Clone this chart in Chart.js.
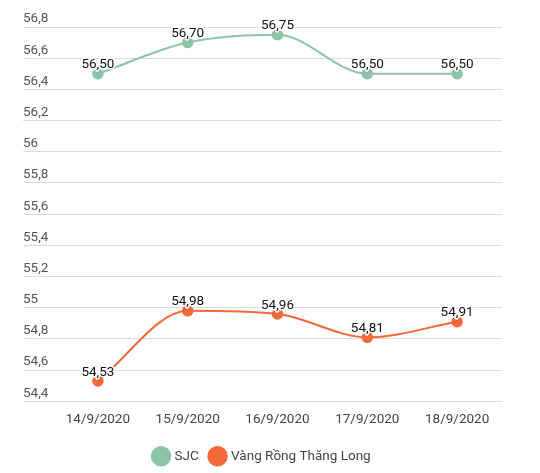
<!DOCTYPE html>
<html>
<head>
<meta charset="utf-8">
<script src="https://cdn.jsdelivr.net/npm/chart.js@4.4.1/dist/chart.umd.min.js"></script>
<style>
  html, body { margin: 0; padding: 0; background: #fff; }
  #wrap { width: 540px; height: 473px; position: relative; }
</style>
</head>
<body>
<div id="wrap"><canvas id="chart"></canvas></div>
<script>
// Dữ liệu giá vàng (triệu đồng/lượng)
const days = ['14/9/2020', '15/9/2020', '16/9/2020', '17/9/2020', '18/9/2020'];
const sjc = [56.50, 56.70, 56.75, 56.50, 56.50];
const rongThangLong = [54.53, 54.98, 54.96, 54.81, 54.91];
const seriesNames = ['SJC', 'Vàng Rồng Thăng Long'];
const seriesColors = ['#8cc4a7', '#f4693a'];

const fmt = (v, d) => v.toFixed(d).replace('.', ',');

// nhãn giá trị trên mỗi điểm
const valueLabels = {
  id: 'valueLabels',
  afterDatasetsDraw(chart) {
    const ctx = chart.ctx;
    ctx.save();
    ctx.font = '13.5px Roboto, "Noto Sans", sans-serif';
    ctx.textAlign = 'center';
    ctx.textBaseline = 'bottom';
    ctx.lineJoin = 'round';
    chart.data.datasets.forEach((ds, i) => {
      chart.getDatasetMeta(i).data.forEach((pt, j) => {
        const txt = fmt(ds.data[j], 2);
        ctx.lineWidth = 3;
        ctx.strokeStyle = '#fff';
        ctx.strokeText(txt, pt.x, pt.y - 2);
        ctx.fillStyle = '#111';
        ctx.fillText(txt, pt.x, pt.y - 2);
      });
    });
    ctx.restore();
  }
};

new Chart(document.getElementById('chart'), {
  type: 'line',
  data: {
    labels: days,
    datasets: [
      { label: seriesNames[0], data: sjc, borderColor: seriesColors[0], backgroundColor: seriesColors[0] },
      { label: seriesNames[1], data: rongThangLong, borderColor: seriesColors[1], backgroundColor: seriesColors[1] }
    ]
  },
  options: {
    responsive: true,
    maintainAspectRatio: false,
    animation: false,
    elements: {
      line: { borderWidth: 2, cubicInterpolationMode: 'monotone' },
      point: { radius: 5, borderWidth: 1.5, borderColor: '#fff' }
    },
    layout: { padding: { left: 23, right: 38, top: 27, bottom: 0 } },
    plugins: {
      legend: {
        position: 'bottom',
        labels: {
          usePointStyle: true,
          pointStyle: 'circle',
          boxWidth: 16,
          boxHeight: 16,
          padding: 12,
          color: '#444',
          font: { family: 'Roboto, "Noto Sans", sans-serif', size: 13.5 }
        }
      },
      tooltip: { enabled: false }
    },
    scales: {
      x: {
        offset: true,
        afterFit: s => { s.height += 8; },
        grid: { display: false },
        border: { display: false },
        ticks: { color: '#444', padding: 2, maxRotation: 0, font: { family: 'Roboto, "Noto Sans", sans-serif', size: 13.5 } }
      },
      y: {
        min: 54.4,
        max: 56.8,
        afterFit: s => { s.width = 30; },
        grid: { color: '#dcdcdc', lineWidth: 1, tickLength: 30, tickColor: '#dcdcdc' },
        border: { display: false },
        ticks: {
          stepSize: 0.2,
          crossAlign: 'far',
          labelOffset: -8,
          color: '#555',
          font: { family: 'Roboto, "Noto Sans", sans-serif', size: 13.5 },
          callback: v => fmt(Number(v.toFixed(1)), 1).replace(/,0$/, '')
        }
      }
    }
  },
  plugins: [valueLabels]
});
</script>
</body>
</html>
